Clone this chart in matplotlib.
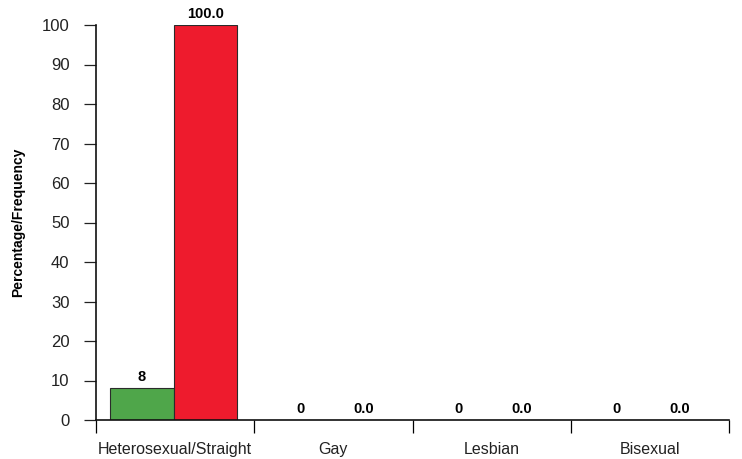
import matplotlib
matplotlib.use("Agg")
import matplotlib.pyplot as plt
import numpy as np

plt.rcParams['font.family'] = ['Liberation Sans', 'DejaVu Sans']

categories = ["Heterosexual/Straight", "Gay", "Lesbian", "Bisexual"]
frequency = [8, 0, 0, 0]
percentage = [100.0, 0.0, 0.0, 0.0]
yticks = list(range(0, 101, 10))

fig = plt.figure(figsize=(7.42, 4.59), dpi=100)
ax = fig.add_axes([96/742, 1 - 420/459, (729-96)/742, (420-25)/459])

x = np.arange(len(categories)) + 0.49
w = 0.4
ax.bar(x - w/2, frequency, w, color='#4fa64a', edgecolor='#2b2b2b', linewidth=0.8)
ax.bar(x + w/2, percentage, w, color='#ee1b2d', edgecolor='#2b2b2b', linewidth=0.8)

for xi, v in zip(x - w/2, frequency):
    ax.text(xi, v + 1.0, f"{v:d}", ha='center', va='bottom', fontsize=10.5, fontweight='bold', clip_on=False)
for xi, v in zip(x + w/2, percentage):
    ax.text(xi, v + 1.0, f"{v:.1f}", ha='center', va='bottom', fontsize=10.5, fontweight='bold', clip_on=False)

ax.set_xlim(0, 4)
ax.set_ylim(0, 100)
ax.set_yticks(yticks)
ax.tick_params(axis='y', length=9, width=0.9, pad=10, labelsize=12, colors='#222222')
ax.set_xticks(range(0, 5))
ax.set_xticklabels([])
ax.set_xticks(np.arange(4) + 0.5, minor=True)
ax.set_xticklabels(categories, minor=True)
ax.tick_params(axis='x', which='major', length=9, width=0.9)
ax.tick_params(axis='x', which='minor', length=0, pad=16, labelsize=11.5, colors='#222222')

for s in ['top', 'right']:
    ax.spines[s].set_visible(False)
for s in ['left', 'bottom']:
    ax.spines[s].set_linewidth(1.2)
    ax.spines[s].set_color('#111111')

ax.set_ylabel("Percentage/Frequency", fontsize=10, fontweight='bold', labelpad=12)

fig.savefig("out.png", dpi=100)
